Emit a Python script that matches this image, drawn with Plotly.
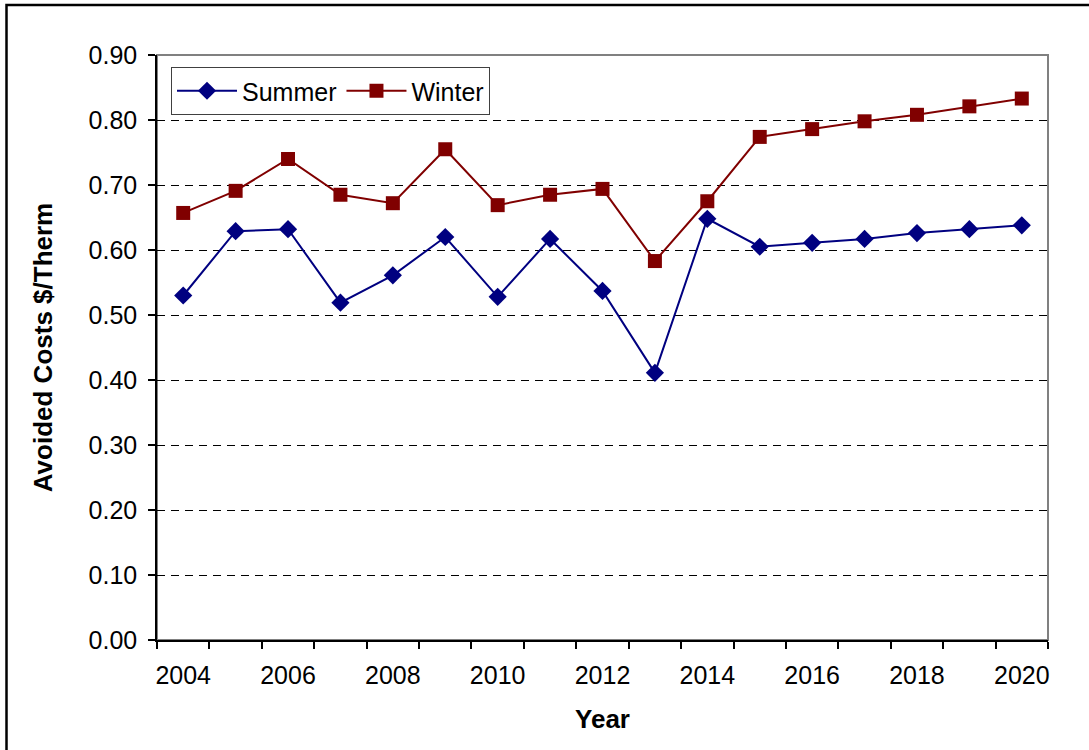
import plotly.graph_objects as go

years = list(range(2004, 2021))
summer = [0.530, 0.629, 0.632, 0.519, 0.561, 0.620, 0.528, 0.617, 0.537, 0.411,
          0.648, 0.605, 0.611, 0.617, 0.626, 0.632, 0.638]
winter = [0.657, 0.691, 0.740, 0.685, 0.672, 0.755, 0.669, 0.685, 0.694, 0.583,
          0.675, 0.774, 0.786, 0.798, 0.808, 0.821, 0.833]
y_ticks = [0.0, 0.1, 0.2, 0.3, 0.4, 0.5, 0.6, 0.7, 0.8, 0.9]
x_label_years = list(range(2004, 2021, 2))

FONT = "Liberation Sans, Arial, sans-serif"
W, H = 1089, 750
L, R, T, B = 157, 1048, 55, 640

fig = go.Figure()
fig.add_trace(go.Scatter(
    x=years, y=summer, name="Summer", mode="lines+markers",
    line=dict(color="#000080", width=2),
    marker=dict(symbol="diamond", size=14, color="#000080"),
))
fig.add_trace(go.Scatter(
    x=years, y=winter, name="Winter", mode="lines+markers",
    line=dict(color="#800000", width=2),
    marker=dict(symbol="square", size=14, color="#800000"),
))

pw, ph = R - L, B - T
# outer chart frame
fig.add_shape(type="rect", xref="paper", yref="paper",
              x0=(6.5 - L) / pw, x1=(W + 20 - L) / pw,
              y0=(B - (H + 20)) / ph, y1=(B - 5) / ph,
              line=dict(color="black", width=2.5), layer="below")
# plot area border (gray top/right)
fig.add_shape(type="rect", xref="paper", yref="paper", x0=0, x1=1, y0=0, y1=1,
              line=dict(color="#808080", width=2), layer="below")

fig.update_layout(
    width=W, height=H,
    margin=dict(l=L, r=W - R, t=T, b=H - B),
    paper_bgcolor="white", plot_bgcolor="white",
    font=dict(family=FONT, size=25, color="black"),
    showlegend=True,
    legend=dict(
        orientation="h", x=(171 - L) / pw, y=(B - 67) / ph,
        xanchor="left", yanchor="top",
        bordercolor="#404040", borderwidth=1, bgcolor="white",
        font=dict(family=FONT, size=25, color="black"),
        tracegroupgap=0, itemwidth=60,
    ),
    xaxis=dict(
        range=[2003.5, 2020.5],
        tickmode="array", tickvals=x_label_years,
        ticktext=[str(v) for v in x_label_years],
        ticks="", showgrid=False, zeroline=False,
        showline=True, linecolor="black", linewidth=1.5,
        tickfont=dict(family=FONT, size=25, color="black"),
        ticklabelstandoff=12,
        minor=dict(tickmode="array",
                   tickvals=[y - 0.5 for y in years] + [years[-1] + 0.5],
                   ticks="outside", ticklen=7, tickcolor="black", tickwidth=1.5,
                   showgrid=False),
        title=dict(text="<b>Year</b>", font=dict(family=FONT, size=26, color="black"),
                   standoff=22),
    ),
    yaxis=dict(
        range=[0, 0.9],
        tickmode="array", tickvals=y_ticks,
        ticktext=[f"{v:.2f}" for v in y_ticks],
        ticks="outside", ticklen=7, tickcolor="black", tickwidth=1.5,
        ticklabelstandoff=6,
        showgrid=True, gridcolor="black", gridwidth=1, griddash="8px,6px",
        zeroline=False,
        showline=True, linecolor="black", linewidth=1.5,
        tickfont=dict(family=FONT, size=25, color="black"),
        title=dict(text="<b>Avoided Costs $/Therm</b>",
                   font=dict(family=FONT, size=26, color="black"), standoff=28),
    ),
)

fig.write_html("out.html", config={"displayModeBar": False},
               post_script="document.body.style.margin='0';")
